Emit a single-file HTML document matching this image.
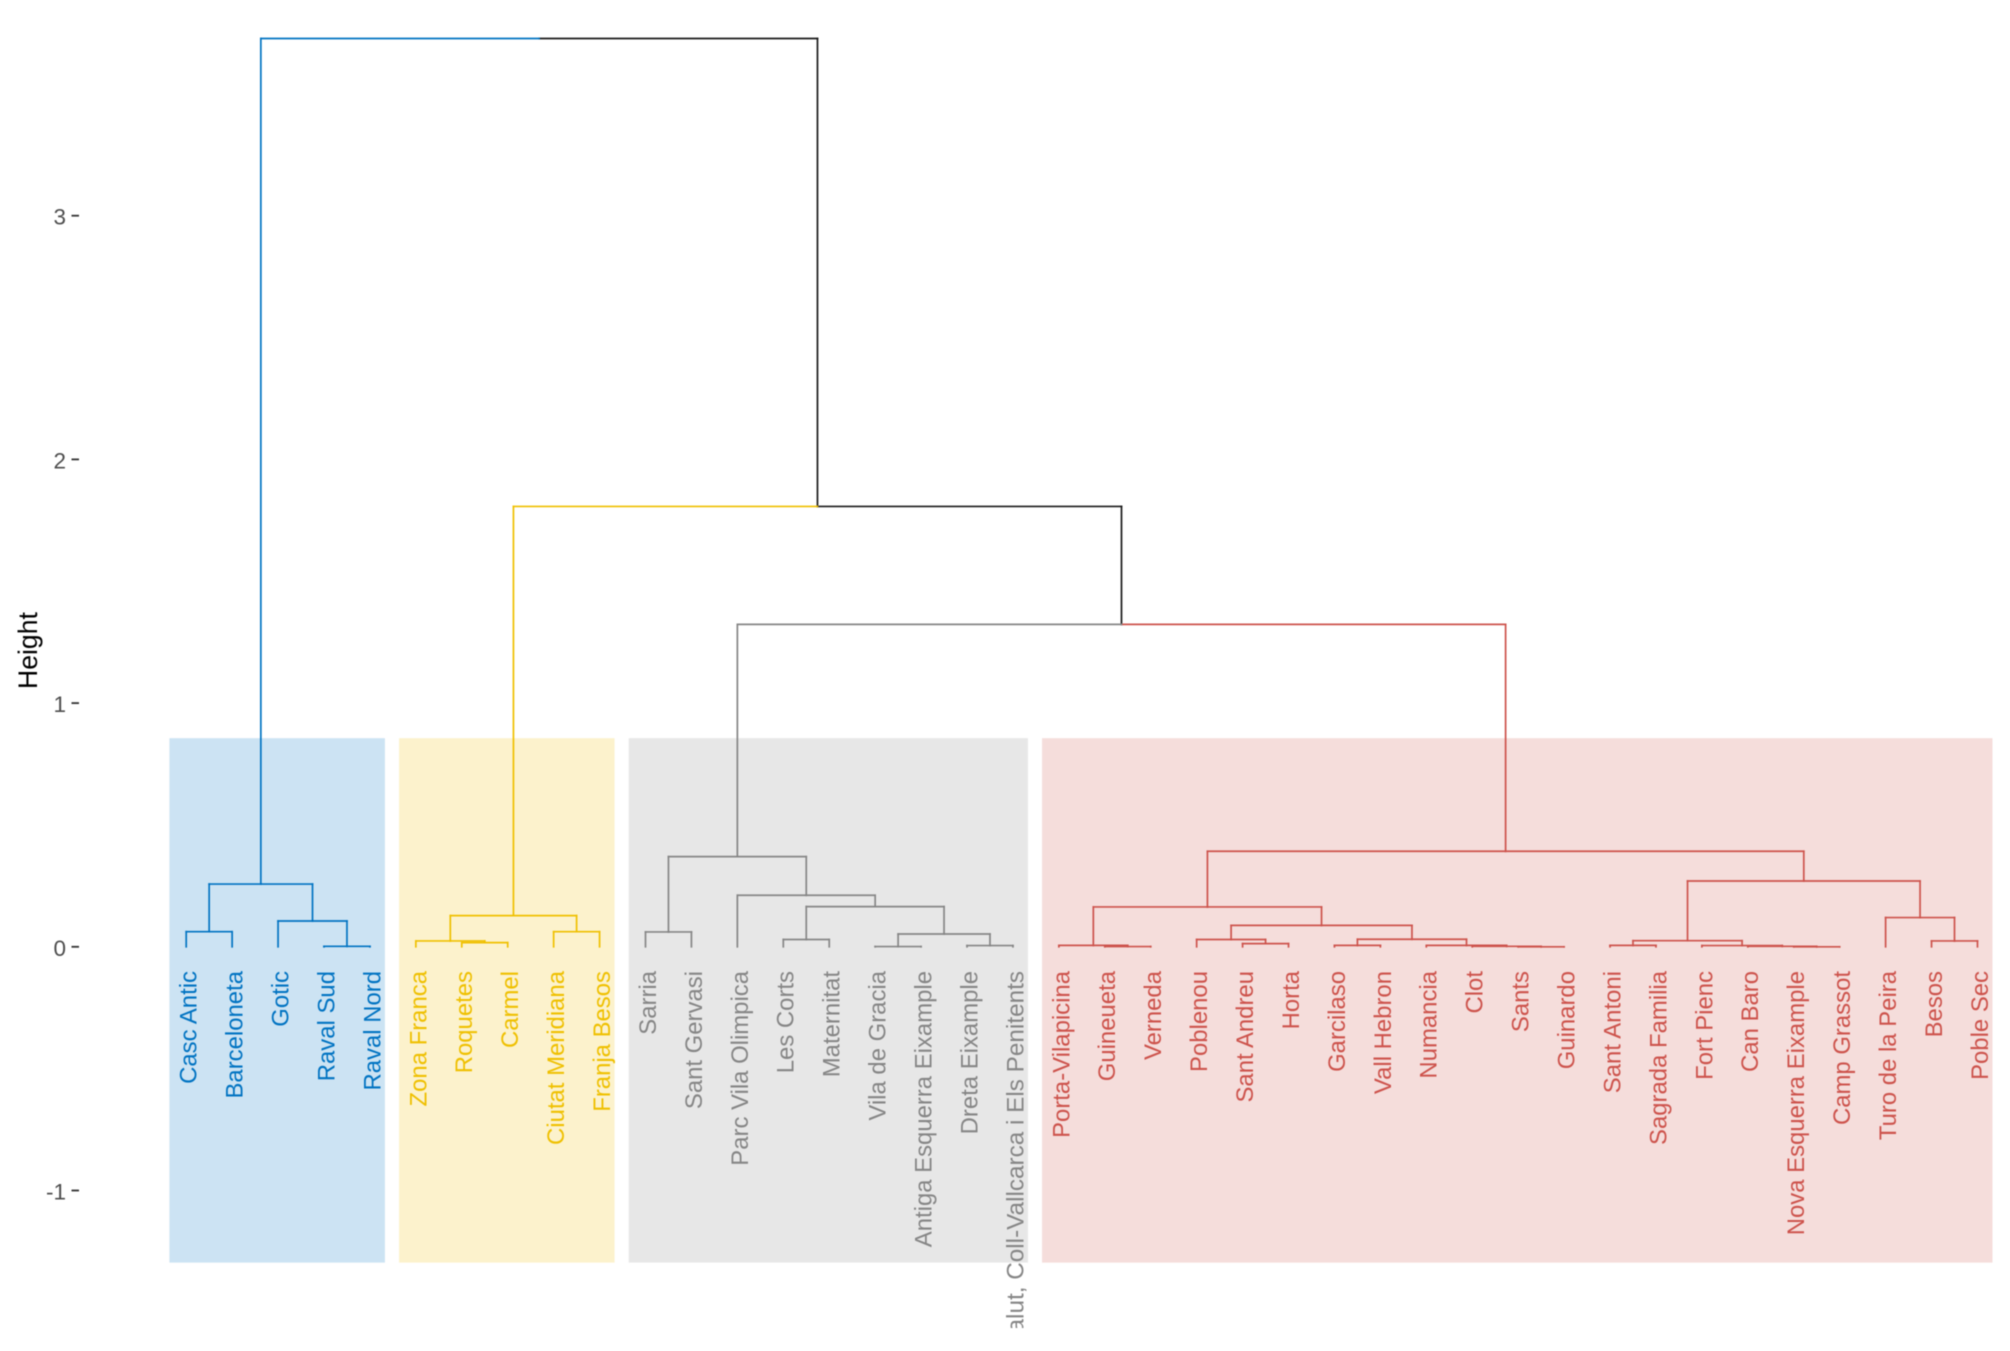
<!DOCTYPE html>
<html lang="en">
<head>
<meta charset="utf-8">
<title>Dendrogram of Barcelona neighbourhoods</title>
<style>
  html, body { margin: 0; padding: 0; background: #ffffff; }
  #chart { display: block; width: 2010px; height: 1351px; font-family: "Liberation Sans", Arial, sans-serif; filter: blur(0.55px); }
</style>
</head>
<body>
<svg id="chart" xmlns="http://www.w3.org/2000/svg" width="2010" height="1351" viewBox="0 0 2010 1351">
  <defs>
    <clipPath id="page-clip"><rect x="0" y="0" width="2010" height="1328"></rect></clipPath>
  </defs>
  <g id="cluster-rects"></g>
  <g id="y-axis"></g>
  <g id="branches" fill="none"></g>
  <g id="leaf-labels" clip-path="url(#page-clip)"></g>
  <text transform="translate(37 689) rotate(-90)" font-size="26.6" fill="#000000">Height</text>
</svg>
<script>
// Leaves, left to right
const leafLabels = ["Casc Antic","Barceloneta","Gotic","Raval Sud","Raval Nord",
  "Zona Franca","Roquetes","Carmel","Ciutat Meridiana","Franja Besos",
  "Sarria","Sant Gervasi","Parc Vila Olimpica","Les Corts","Maternitat","Vila de Gracia","Antiga Esquerra Eixample","Dreta Eixample","la Salut, Coll-Vallcarca i Els Penitents",
  "Porta-Vilapicina","Guineueta","Verneda","Poblenou","Sant Andreu","Horta","Garcilaso","Vall Hebron","Numancia","Clot","Sants","Guinardo","Sant Antoni","Sagrada Familia","Fort Pienc","Can Baro","Nova Esquerra Eixample","Camp Grassot","Turo de la Peira","Besos","Poble Sec"];
const leafClusters = [0,0,0,0,0, 1,1,1,1,1, 2,2,2,2,2,2,2,2,2, 3,3,3,3,3,3,3,3,3,3,3,3,3,3,3,3,3,3,3,3,3];
// Merges in hclust convention: negative = leaf number, positive = earlier merge number
const mergeLeft  = [-1,-4,-3,1,-7,-6,-9,6,-11,-14,-16,-18,11,10,-13,9,-21,-20,-24,-23,-26,-30,-29,-28,21,20,18,-32,-36,-35,-34,28,-39,-38,32,27,16,8,4];
const mergeRight = [-2,-5,2,3,-8,5,-10,7,-12,-15,-17,-19,12,13,14,15,-22,17,-25,19,-27,-31,22,23,24,25,26,-33,-37,29,30,31,-40,33,34,35,36,37,38];
const mergeHeights = [0.062,0.002,0.106,0.2575,0.017,0.024,0.062,0.128,0.061,0.03,0.001,0.005,0.0526,0.165,0.2115,0.37,0.001,0.006,0.013,0.03,0.006,0,0.002,0.006,0.031,0.088,0.1635,0.006,0,0.002,0.005,0.025,0.024,0.12,0.27,0.392,1.323,1.807,3.727];
const yTickValues = [-1,0,1,2,3];
const rectTopValue = 0.856;
const rectBottomValue = -1.296;
const clusterNames = ["blue","yellow","grey","red"];
const clusterColors = ["#0073C2","#EFC000","#868686","#CD534C"];
const rootColor = "#1a1a1a";

const SVG_NS = "http://www.w3.org/2000/svg";
function xScale(pos) { return 186.2 + 45.93 * pos; }
function yScale(v) { return 946.8 - 243.7 * v; }

const rectLayer = document.getElementById("cluster-rects");
const axisLayer = document.getElementById("y-axis");
const branchLayer = document.getElementById("branches");
const labelLayer = document.getElementById("leaf-labels");

// Cluster background rectangles
clusterNames.forEach(function (name, c) {
  const first = leafClusters.indexOf(c);
  const last = leafClusters.lastIndexOf(c);
  const r = document.createElementNS(SVG_NS, "rect");
  r.setAttribute("x", xScale(first) - 16.8);
  r.setAttribute("width", xScale(last) + 15 - xScale(first) + 16.8);
  r.setAttribute("y", yScale(rectTopValue));
  r.setAttribute("height", yScale(rectBottomValue) - yScale(rectTopValue));
  r.setAttribute("fill", clusterColors[c]);
  r.setAttribute("fill-opacity", "0.2");
  
  
  rectLayer.appendChild(r);
});

// Y axis ticks and labels
yTickValues.forEach(function (v) {
  const y = yScale(v);
  const tick = document.createElementNS(SVG_NS, "line");
  tick.setAttribute("x1", 71.5);
  tick.setAttribute("x2", 79);
  tick.setAttribute("y1", y);
  tick.setAttribute("y2", y);
  tick.setAttribute("stroke", "#333333");
  tick.setAttribute("stroke-width", "1.8");
  
  
  axisLayer.appendChild(tick);
  const label = document.createElementNS(SVG_NS, "text");
  label.setAttribute("x", 66);
  label.setAttribute("y", y + 9);
  label.setAttribute("text-anchor", "end");
  label.setAttribute("font-size", "22.5");
  label.setAttribute("fill", "#4d4d4d");
  label.textContent = String(v);
  
  
  axisLayer.appendChild(label);
});

// Resolve node geometry and colours from the merge arrays
const nodes = [];
function resolve(ref) {
  if (ref < 0) {
    const i = -ref - 1;
    return { x: i, h: 0, cluster: leafClusters[i] };
  }
  return nodes[ref - 1];
}
function colorOf(node) { return node.cluster === null ? rootColor : clusterColors[node.cluster]; }
function drawSegment(x1, y1, x2, y2, color) {
  const seg = document.createElementNS(SVG_NS, "line");
  seg.setAttribute("x1", x1);
  seg.setAttribute("y1", y1);
  seg.setAttribute("x2", x2);
  seg.setAttribute("y2", y2);
  seg.setAttribute("stroke", color);
  seg.setAttribute("stroke-width", "1.7");
  seg.setAttribute("stroke-linecap", "square");
  
  
  branchLayer.appendChild(seg);
}
// Upper merges first so cluster colours paint above the black links
const pending = [];
mergeHeights.forEach(function (h, k) {
  const a = resolve(mergeLeft[k]);
  const b = resolve(mergeRight[k]);
  const node = { x: (a.x + b.x) / 2, h: h, cluster: a.cluster === b.cluster ? a.cluster : null };
  nodes.push(node);
  pending.push([node, a], [node, b]);
});
pending.reverse().forEach(function (pair) {
  const node = pair[0], child = pair[1];
  const color = colorOf(child);
  drawSegment(xScale(node.x), yScale(node.h), xScale(child.x), yScale(node.h), color);
  drawSegment(xScale(child.x), yScale(node.h), xScale(child.x), yScale(child.h), color);
});

// Leaf labels
leafLabels.forEach(function (name, i) {
  const t = document.createElementNS(SVG_NS, "text");
  t.setAttribute("transform", "translate(" + (xScale(i) + 10.4) + " 971) rotate(-90)");
  t.setAttribute("text-anchor", "end");
  t.setAttribute("font-size", name.length > 30 ? "24.3" : "23.9");
  t.setAttribute("fill", clusterColors[leafClusters[i]]);
  t.textContent = name;
  
  
  labelLayer.appendChild(t);
});
</script>
</body>
</html>
